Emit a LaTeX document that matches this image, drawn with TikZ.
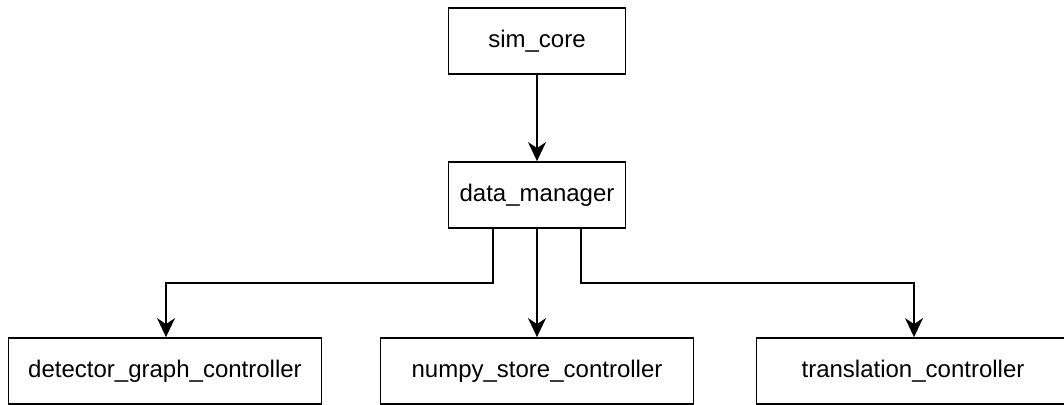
\documentclass[tikz,border=0pt]{standalone}
\usepackage{fontspec}
\setmainfont{Liberation Sans}
\usetikzlibrary{arrows.meta,positioning,calc}

\begin{document}
\begin{tikzpicture}[x=1pt,y=-1pt,
  boxstyle/.style={rectangle,draw,line width=1.8pt,minimum width=177pt,minimum height=66pt,font=\fontsize{24}{28}\selectfont,inner sep=0pt},
  ctrlstyle/.style={boxstyle,minimum width=313pt},
  linkstyle/.style={line width=1.8pt,-{Stealth[length=19pt,width=18pt,inset=6pt]}}
]
\useasboundingbox (0,0) rectangle (1064,404);

\node [boxstyle] (sim core) at (537,41) {sim\_core} ;
\node [boxstyle] (data manager) at (537,195) {data\_manager} ;

\node [ctrlstyle] (detector) at (165,371) {detector\_graph\_controller} ;
\node [ctrlstyle] (numpy) at (537,371) {numpy\_store\_controller} ;
\node [ctrlstyle] (translation) at (913,371) {translation\_controller} ;

\draw[linkstyle] (sim core) -- (data manager) ;
\draw[linkstyle] ($(data manager.south)+(-44,0)$) |- (166,283) -- (detector.north -| 166,0) ;
\draw[linkstyle] (data manager.south -| numpy.north) -- (numpy.north) ;
\draw[linkstyle] ($(data manager.south)+(44,0)$) |- (914,283) -- (translation.north -| 914,0) ;

\end{tikzpicture}
\end{document}
